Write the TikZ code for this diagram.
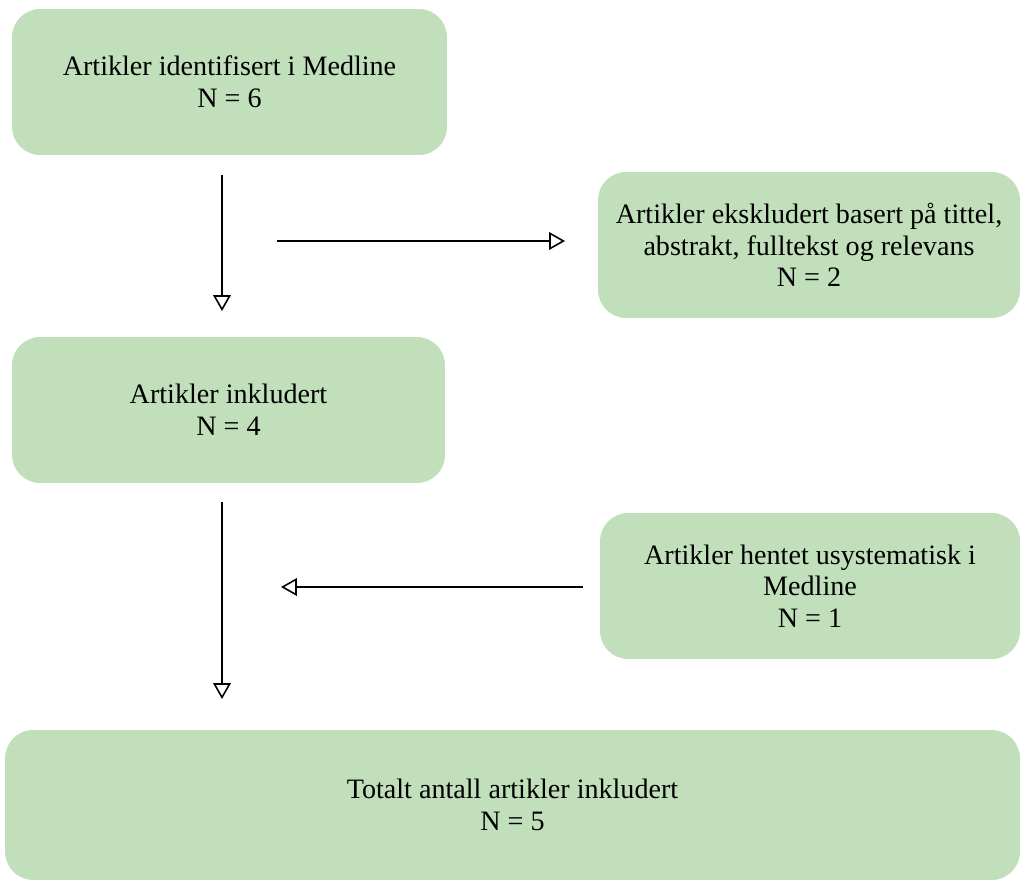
\documentclass[tikz,border=0pt]{standalone}
\usepackage{fontspec}
\setmainfont{Liberation Serif}
\usepackage{xcolor}
\usetikzlibrary{arrows.meta, positioning}
\definecolor{boxgreen}{RGB}{193,223,186}

\begin{document}
\begin{tikzpicture}[x=0.02cm, y=-0.02cm,
        flowbox/.style={fill=boxgreen, rounded corners=16pt, align=center, minimum height=2.92cm, inner sep=0pt, font=\fontsize{16}{18}\selectfont},
        flowarrow/.style={black, line width=0.9pt, -{Triangle[open, length=9pt, width=10pt]}}]
    \useasboundingbox (0,0) rectangle (1024,881);
    \node[flowbox, minimum width=8.7cm] (medline) at (229.5,82) {Artikler identifisert i Medline\\N = 6};
    \node[flowbox, minimum width=8.44cm] (excluded) at (809,245) {Artikler ekskludert basert på tittel,\\abstrakt, fulltekst og relevans\\N = 2};
    \node[flowbox, minimum width=8.66cm] (included) at (228.5,410) {Artikler inkludert\\N = 4};
    \node[flowbox, minimum width=8.4cm] (manual) at (810,586) {Artikler hentet usystematisk i\\Medline\\N = 1};
    \node[flowbox, minimum width=20.3cm, minimum height=3cm] (total) at (512.5,805) {Totalt antall artikler inkludert\\N = 5};
    % free standing arrows
    \coordinate (down1a) at (222,175);
    \coordinate (down1b) at (222,311);
    \coordinate (right1a) at (277,241);
    \coordinate (right1b) at (565,241);
    \coordinate (down2a) at (222,502);
    \coordinate (down2b) at (222,699);
    \coordinate (left2a) at (583,587);
    \coordinate (left2b) at (281,587);
    \draw[flowarrow] (down1a) -- (down1b);
    \draw[flowarrow] (right1a) -- (right1b);
    \draw[flowarrow] (down2a) -- (down2b);
    \draw[flowarrow] (left2a) -- (left2b);
\end{tikzpicture}
\end{document}
